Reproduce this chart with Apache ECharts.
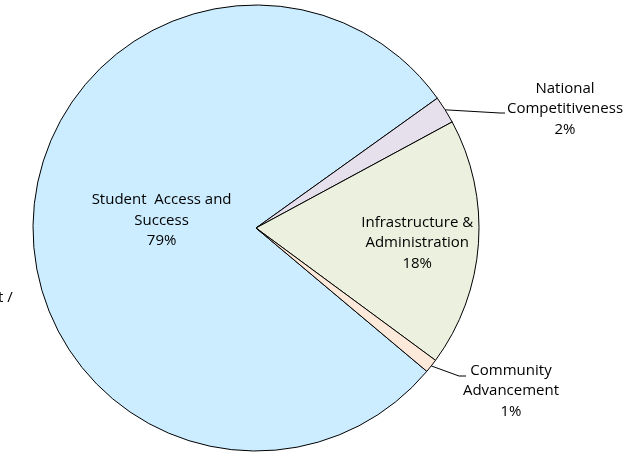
<!DOCTYPE html>
<html>
<head>
<meta charset="utf-8">
<script src="https://cdn.jsdelivr.net/npm/echarts@6/dist/echarts.min.js"></script>
<style>
  html, body { margin: 0; padding: 0; background: #ffffff; }
  #chart { width: 633px; height: 454px; }
</style>
</head>
<body>
<div id="chart"></div>
<script>
// Spending categories and their shares (percent)
const categories = [
  'Student Access and Success',
  'National Competitiveness',
  'Infrastructure & Administration',
  'Community Advancement'
];
const shares = [79, 2, 18, 1];
const sliceColors = ['#CCECFF', '#E6E0EC', '#EBF1DE', '#FDE9D9'];
const labelTexts = [
  'Student  Access and\nSuccess',
  'National\nCompetitiveness',
  'Infrastructure &\nAdministration',
  'Community\nAdvancement'
];

const FONT = '"Open Sans", Lato, sans-serif';
const FONT_SIZE = 15;

const chart = echarts.init(document.getElementById('chart'), null, { renderer: 'canvas' });

const data = categories.map((name, i) => {
  const inside = i === 0 || i === 2;
  return {
    name: name,
    value: shares[i],
    itemStyle: { color: sliceColors[i] },
    label: {
      position: inside ? 'inside' : 'outside',
      formatter: labelTexts[i] + '\n' + shares[i] + '%'
    },
    labelLine: { show: !inside }
  };
});

chart.setOption({
  animation: false,
  series: [{
    type: 'pie',
    center: [256, 228],
    radius: 223,
    startAngle: 320,
    clockwise: true,
    avoidLabelOverlap: false,
    itemStyle: { borderColor: '#000000', borderWidth: 1 },
    label: {
      color: '#000000',
      fontFamily: FONT,
      fontSize: FONT_SIZE,
      lineHeight: 20.5,
      align: 'center'
    },
    labelLine: {
      lineStyle: { color: '#000000', width: 1 },
      length: 8,
      length2: 6
    },
    labelLayout: function (params) {
      const i = params.dataIndex;
      if (i === 0) return { dx: 20, dy: -3 };
      if (i === 2) return { dx: 47, dy: 7 };
      // outside labels: text block placed to the right with an elbow leader
      const start = params.labelLinePoints ? params.labelLinePoints[0] : null;
      if (i === 1) {
        return {
          x: 565, y: 109, align: 'center', verticalAlign: 'middle',
          labelLinePoints: start ? [start, [500, 113], [505, 113]] : undefined
        };
      }
      if (i === 3) {
        return {
          x: 511, y: 391, align: 'center', verticalAlign: 'middle',
          labelLinePoints: start ? [start, [459, 376], [466, 376]] : undefined
        };
      }
      return {};
    },
    data: data
  }],
  graphic: [{
    type: 'text',
    left: -2,
    top: 290,
    style: { text: 't /', fill: '#000000', font: FONT_SIZE + 'px ' + FONT }
  }]
});
</script>
</body>
</html>
